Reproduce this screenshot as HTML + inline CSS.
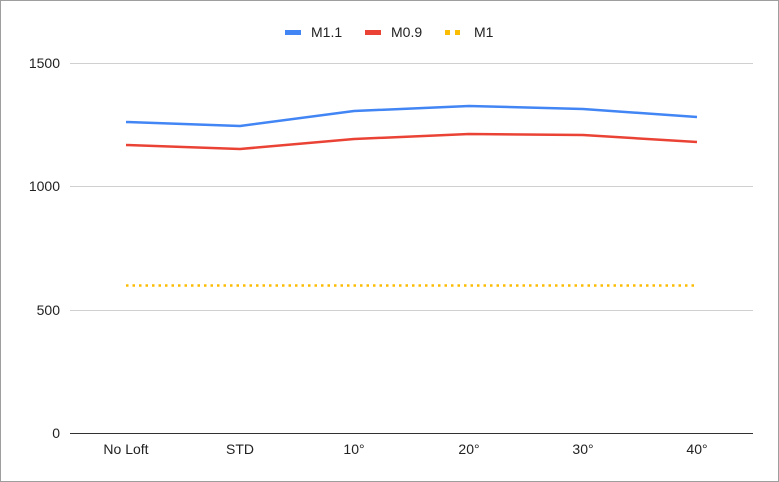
<!DOCTYPE html>
<html><head><meta charset="utf-8"><style>
html,body{margin:0;padding:0;background:#fff;}
svg{display:block;font-family:"Liberation Sans",Arial,sans-serif;}
</style></head><body>
<svg width="779" height="482" viewBox="0 0 779 482" xmlns="http://www.w3.org/2000/svg">
<rect x="0.5" y="0.5" width="778" height="481" fill="#fff" stroke="#9e9e9e"/>
<g stroke="#d0d0d0" stroke-width="1">
<line x1="70" x2="753" y1="63.5" y2="63.5"/>
<line x1="70" x2="753" y1="186.5" y2="186.5"/>
<line x1="70" x2="753" y1="310.5" y2="310.5"/>
</g>
<line x1="70" x2="753" y1="433.5" y2="433.5" stroke="#333" stroke-width="1"/>
<g font-size="14" fill="#222" text-anchor="end">
<text x="60" y="68">1500</text>
<text x="60" y="191">1000</text>
<text x="60" y="315">500</text>
<text x="60" y="438">0</text>
</g>
<g font-size="14" fill="#222" text-anchor="middle">
<text x="126" y="454">No Loft</text>
<text x="240" y="454">STD</text>
<text x="354" y="454">10°</text>
<text x="469" y="454">20°</text>
<text x="583" y="454">30°</text>
<text x="697" y="454">40°</text>
</g>
<polyline fill="none" stroke="#4285f4" stroke-width="2.5" stroke-linejoin="round" points="126,122 240,126 354,111 469,106 583,109 697,117"/>
<polyline fill="none" stroke="#ea4335" stroke-width="2.5" stroke-linejoin="round" points="126,145 240,149 354,139 469,134 583,135 697,142"/>
<line x1="126" x2="697" y1="285.5" y2="285.5" stroke="#fbbc04" stroke-width="2.5" stroke-dasharray="2.5,4"/>
<rect x="285" y="30" width="16" height="5" fill="#4285f4"/>
<text x="311" y="37" font-size="14" fill="#222">M1.1</text>
<rect x="365" y="30" width="16" height="5" fill="#ea4335"/>
<text x="391" y="37" font-size="14" fill="#222">M0.9</text>
<rect x="445" y="30" width="5" height="5" fill="#fbbc04"/>
<rect x="455" y="30" width="5" height="5" fill="#fbbc04"/>
<text x="474" y="37" font-size="14" fill="#222">M1</text>
</svg>
</body></html>
